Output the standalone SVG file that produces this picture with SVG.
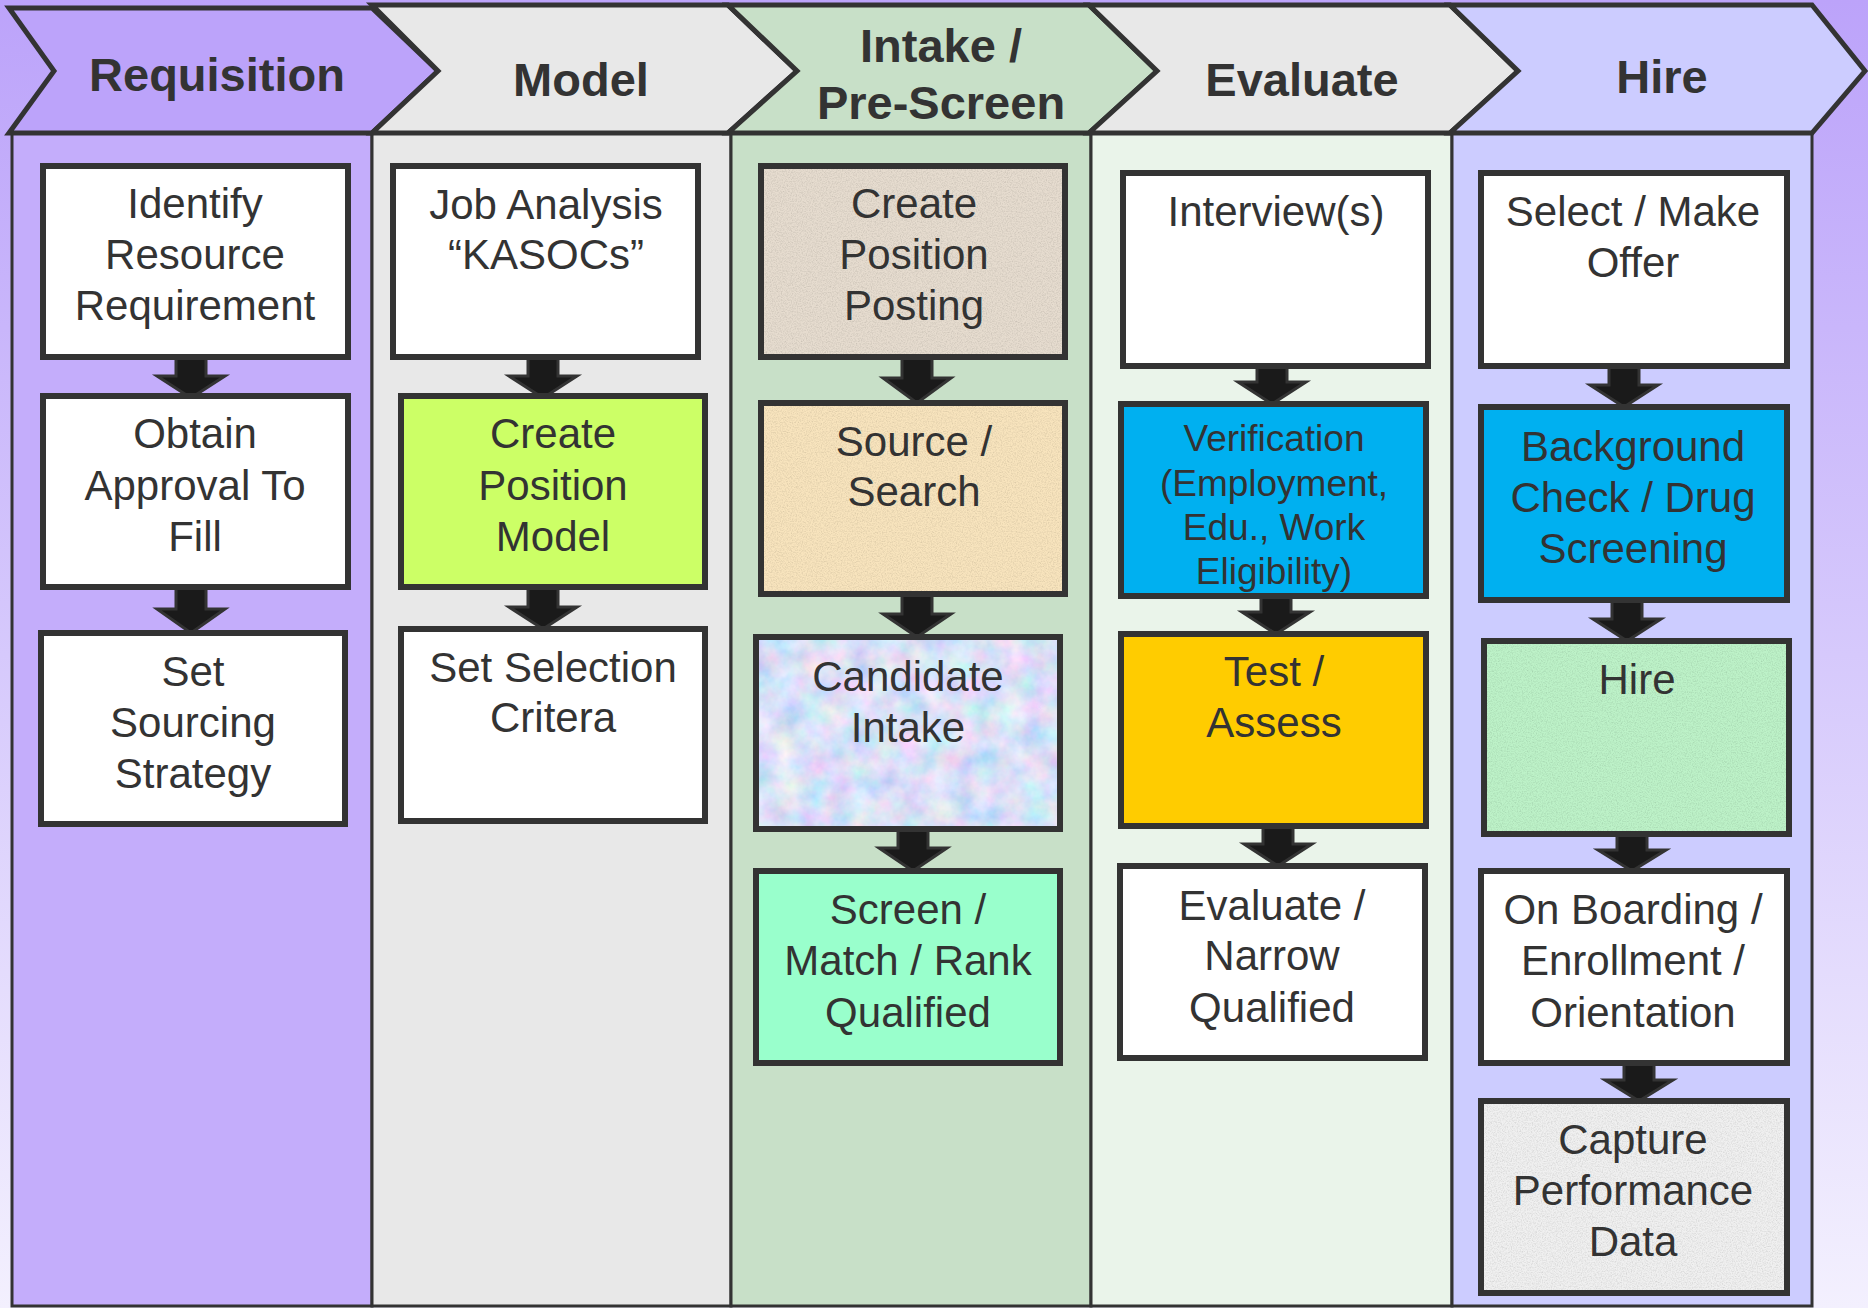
<svg xmlns="http://www.w3.org/2000/svg" width="1868" height="1308" viewBox="0 0 1868 1308">
<defs>
<linearGradient id="bg" x1="0" y1="0" x2="0" y2="1">
<stop offset="0" stop-color="#bca3fa"/>
<stop offset="0.5" stop-color="#d6c9fc"/>
<stop offset="1" stop-color="#f3f0fe"/>
</linearGradient>
<filter id="tex" x="0" y="0" width="100%" height="100%">
<feTurbulence type="fractalNoise" baseFrequency="0.8" numOctaves="3" seed="4" result="n"/>
<feColorMatrix in="n" type="saturate" values="0" result="g"/>
<feComponentTransfer in="g" result="t">
<feFuncR type="linear" slope="0.6" intercept="0.65"/>
<feFuncG type="linear" slope="0.6" intercept="0.65"/>
<feFuncB type="linear" slope="0.6" intercept="0.65"/>
<feFuncA type="linear" slope="0" intercept="1"/>
</feComponentTransfer>
<feBlend in="SourceGraphic" in2="t" mode="multiply" result="m"/>
<feComposite in="m" in2="SourceGraphic" operator="in"/>
</filter>
<filter id="marble" x="0" y="0" width="100%" height="100%">
<feTurbulence type="fractalNoise" baseFrequency="0.04" numOctaves="4" seed="7" result="n"/>
<feColorMatrix in="n" type="matrix" values="0.8 0 0 0 0.3  0 0.5 0 0 0.5  0 0 0.3 0 0.78  0 0 0 0 1" result="c"/>
<feComposite in="c" in2="SourceGraphic" operator="in"/>
</filter>
<style>
.col{stroke:#333;stroke-width:3}
.hdr{stroke:#333;stroke-width:5;stroke-linejoin:miter}
.box{stroke:#333;stroke-width:6}
.ht{font-family:"Liberation Sans",Arial,sans-serif;font-weight:bold;font-size:47px;fill:#333;text-anchor:middle}
.t{font-family:"Liberation Sans",Arial,sans-serif;font-size:42px;fill:#333;text-anchor:middle}
.ts{font-family:"Liberation Sans",Arial,sans-serif;font-size:37px;fill:#333;text-anchor:middle}
.arr{fill:#1a1a1a;stroke:#333;stroke-width:3;stroke-linejoin:miter}
</style>
</defs>
<rect x="0" y="0" width="1868" height="1308" fill="url(#bg)"/>

<g id="columns">
<rect class="col" x="12" y="133" width="360" height="1173" fill="#c4adfb"/>
<rect class="col" x="372" y="133" width="359" height="1173" fill="#e8e8e8"/>
<rect class="col" x="731" y="133" width="360" height="1173" fill="#c8e0c8"/>
<rect class="col" x="1091" y="133" width="361" height="1173" fill="#eaf4ea"/>
<rect class="col" x="1452" y="133" width="360" height="1173" fill="#ccccff"/>
</g>

<g id="header-requisition">
<polygon class="hdr" points="9,8 372,8 438,71 372,133 9,133 54,71" fill="#bca3fa"/>
<text class="ht" x="217" y="91">Requisition</text>
</g>
<g id="header-model">
<polygon class="hdr" points="372,5 728,5 797,71 728,133 372,133 438,71" fill="#e8e8e8"/>
<text class="ht" x="581" y="96">Model</text>
</g>
<g id="header-intake">
<polygon class="hdr" points="728,5 1089,5 1157,71 1089,133 728,133 797,71" fill="#c8e0c8"/>
<text class="ht" x="941" y="62">Intake /</text>
<text class="ht" x="941" y="119">Pre-Screen</text>
</g>
<g id="header-evaluate">
<polygon class="hdr" points="1089,5 1450,5 1518,71 1450,133 1089,133 1157,71" fill="#e8e8e8"/>
<text class="ht" x="1302" y="96">Evaluate</text>
</g>
<g id="header-hire">
<polygon class="hdr" points="1450,5 1812,5 1865,71 1812,133 1450,133 1518,71" fill="#ccccff"/>
<text class="ht" x="1662" y="93">Hire</text>
</g>

<g id="connectors">
<path class="arr" d="M176,357 H206 V376 H225 L191,398 L157,376 H176 Z"/>
<path class="arr" d="M176,587 H206 V609 H225 L191,633 L157,609 H176 Z"/>
<path class="arr" d="M528,357 H558 V376 H577 L543,398 L509,376 H528 Z"/>
<path class="arr" d="M528,587 H558 V607 H577 L543,629 L509,607 H528 Z"/>
<path class="arr" d="M902,357 H932 V378 H951 L917,403 L883,378 H902 Z"/>
<path class="arr" d="M902,594 H932 V614 H951 L917,637 L883,614 H902 Z"/>
<path class="arr" d="M898,829 H928 V848 H947 L913,871 L879,848 H898 Z"/>
<path class="arr" d="M1257,366 H1287 V382 H1306 L1272,404 L1238,382 H1257 Z"/>
<path class="arr" d="M1261,596 H1291 V612 H1310 L1276,634 L1242,612 H1261 Z"/>
<path class="arr" d="M1263,826 H1293 V844 H1312 L1278,866 L1244,844 H1263 Z"/>
<path class="arr" d="M1609,366 H1639 V385 H1658 L1624,407 L1590,385 H1609 Z"/>
<path class="arr" d="M1612,600 H1642 V619 H1661 L1627,641 L1593,619 H1612 Z"/>
<path class="arr" d="M1617,834 H1647 V850 H1666 L1632,871 L1598,850 H1617 Z"/>
<path class="arr" d="M1624,1063 H1654 V1080 H1673 L1639,1101 L1605,1080 H1624 Z"/>
</g>

<g id="n-identify">
<rect class="box" x="43" y="166" width="305" height="191" fill="#ffffff"/>
<text class="t" x="195" y="218">Identify</text>
<text class="t" x="195" y="269">Resource</text>
<text class="t" x="195" y="320">Requirement</text>
</g>
<g id="n-obtain">
<rect class="box" x="43" y="396" width="305" height="191" fill="#ffffff"/>
<text class="t" x="195" y="448">Obtain</text>
<text class="t" x="195" y="500">Approval To</text>
<text class="t" x="195" y="551">Fill</text>
</g>
<g id="n-sourcing">
<rect class="box" x="41" y="633" width="304" height="191" fill="#ffffff"/>
<text class="t" x="193" y="686">Set</text>
<text class="t" x="193" y="737">Sourcing</text>
<text class="t" x="193" y="788">Strategy</text>
</g>

<g id="n-jobanalysis">
<rect class="box" x="393" y="166" width="305" height="191" fill="#ffffff"/>
<text class="t" x="546" y="219">Job Analysis</text>
<text class="t" x="546" y="269">“KASOCs”</text>
</g>
<g id="n-positionmodel">
<rect class="box" x="401" y="396" width="304" height="191" fill="#ccff66"/>
<text class="t" x="553" y="448">Create</text>
<text class="t" x="553" y="500">Position</text>
<text class="t" x="553" y="551">Model</text>
</g>
<g id="n-selection">
<rect class="box" x="401" y="629" width="304" height="192" fill="#ffffff"/>
<text class="t" x="553" y="682">Set Selection</text>
<text class="t" x="553" y="732">Critera</text>
</g>

<g id="n-posting">
<rect x="761" y="166" width="304" height="191" fill="#e6dccf" filter="url(#tex)"/>
<rect class="box" x="761" y="166" width="304" height="191" fill="none"/>
<text class="t" x="914" y="218">Create</text>
<text class="t" x="914" y="269">Position</text>
<text class="t" x="914" y="320">Posting</text>
</g>
<g id="n-source">
<rect x="761" y="403" width="304" height="191" fill="#f8e4bd" filter="url(#tex)"/>
<rect class="box" x="761" y="403" width="304" height="191" fill="none"/>
<text class="t" x="914" y="456">Source /</text>
<text class="t" x="914" y="506">Search</text>
</g>
<g id="n-candidate">
<rect x="756" y="637" width="304" height="192" fill="#c4cdf0" filter="url(#marble)"/>
<rect class="box" x="756" y="637" width="304" height="192" fill="none"/>
<text class="t" x="908" y="691">Candidate</text>
<text class="t" x="908" y="742">Intake</text>
</g>
<g id="n-screen">
<rect class="box" x="756" y="871" width="304" height="192" fill="#99ffcc"/>
<text class="t" x="908" y="924">Screen /</text>
<text class="t" x="908" y="975">Match / Rank</text>
<text class="t" x="908" y="1027">Qualified</text>
</g>

<g id="n-interview">
<rect class="box" x="1123" y="173" width="305" height="193" fill="#ffffff"/>
<text class="t" x="1276" y="226">Interview(s)</text>
</g>
<g id="n-verification">
<rect class="box" x="1121" y="404" width="305" height="192" fill="#00b0f0"/>
<text class="ts" x="1274" y="451">Verification</text>
<text class="ts" x="1274" y="496">(Employment,</text>
<text class="ts" x="1274" y="540">Edu., Work</text>
<text class="ts" x="1274" y="584">Eligibility)</text>
</g>
<g id="n-test">
<rect class="box" x="1121" y="634" width="305" height="192" fill="#ffcc00"/>
<text class="t" x="1274" y="686">Test /</text>
<text class="t" x="1274" y="737">Assess</text>
</g>
<g id="n-narrow">
<rect class="box" x="1120" y="866" width="305" height="192" fill="#ffffff"/>
<text class="t" x="1272" y="920">Evaluate /</text>
<text class="t" x="1272" y="970">Narrow</text>
<text class="t" x="1272" y="1022">Qualified</text>
</g>

<g id="n-offer">
<rect class="box" x="1481" y="173" width="306" height="193" fill="#ffffff"/>
<text class="t" x="1633" y="226">Select / Make</text>
<text class="t" x="1633" y="277">Offer</text>
</g>
<g id="n-background">
<rect class="box" x="1481" y="407" width="306" height="193" fill="#00b0f0"/>
<text class="t" x="1633" y="461">Background</text>
<text class="t" x="1633" y="512">Check / Drug</text>
<text class="t" x="1633" y="563">Screening</text>
</g>
<g id="n-hire">
<rect x="1484" y="641" width="305" height="193" fill="#bdf2c8" filter="url(#tex)"/>
<rect class="box" x="1484" y="641" width="305" height="193" fill="none"/>
<text class="t" x="1637" y="694">Hire</text>
</g>
<g id="n-onboarding">
<rect class="box" x="1481" y="871" width="306" height="192" fill="#ffffff"/>
<text class="t" x="1633" y="924">On Boarding /</text>
<text class="t" x="1633" y="975">Enrollment /</text>
<text class="t" x="1633" y="1027">Orientation</text>
</g>
<g id="n-capture">
<rect x="1481" y="1101" width="306" height="192" fill="#f0f0f0" filter="url(#tex)"/>
<rect class="box" x="1481" y="1101" width="306" height="192" fill="none"/>
<text class="t" x="1633" y="1154">Capture</text>
<text class="t" x="1633" y="1205">Performance</text>
<text class="t" x="1633" y="1256">Data</text>
</g>
</svg>
